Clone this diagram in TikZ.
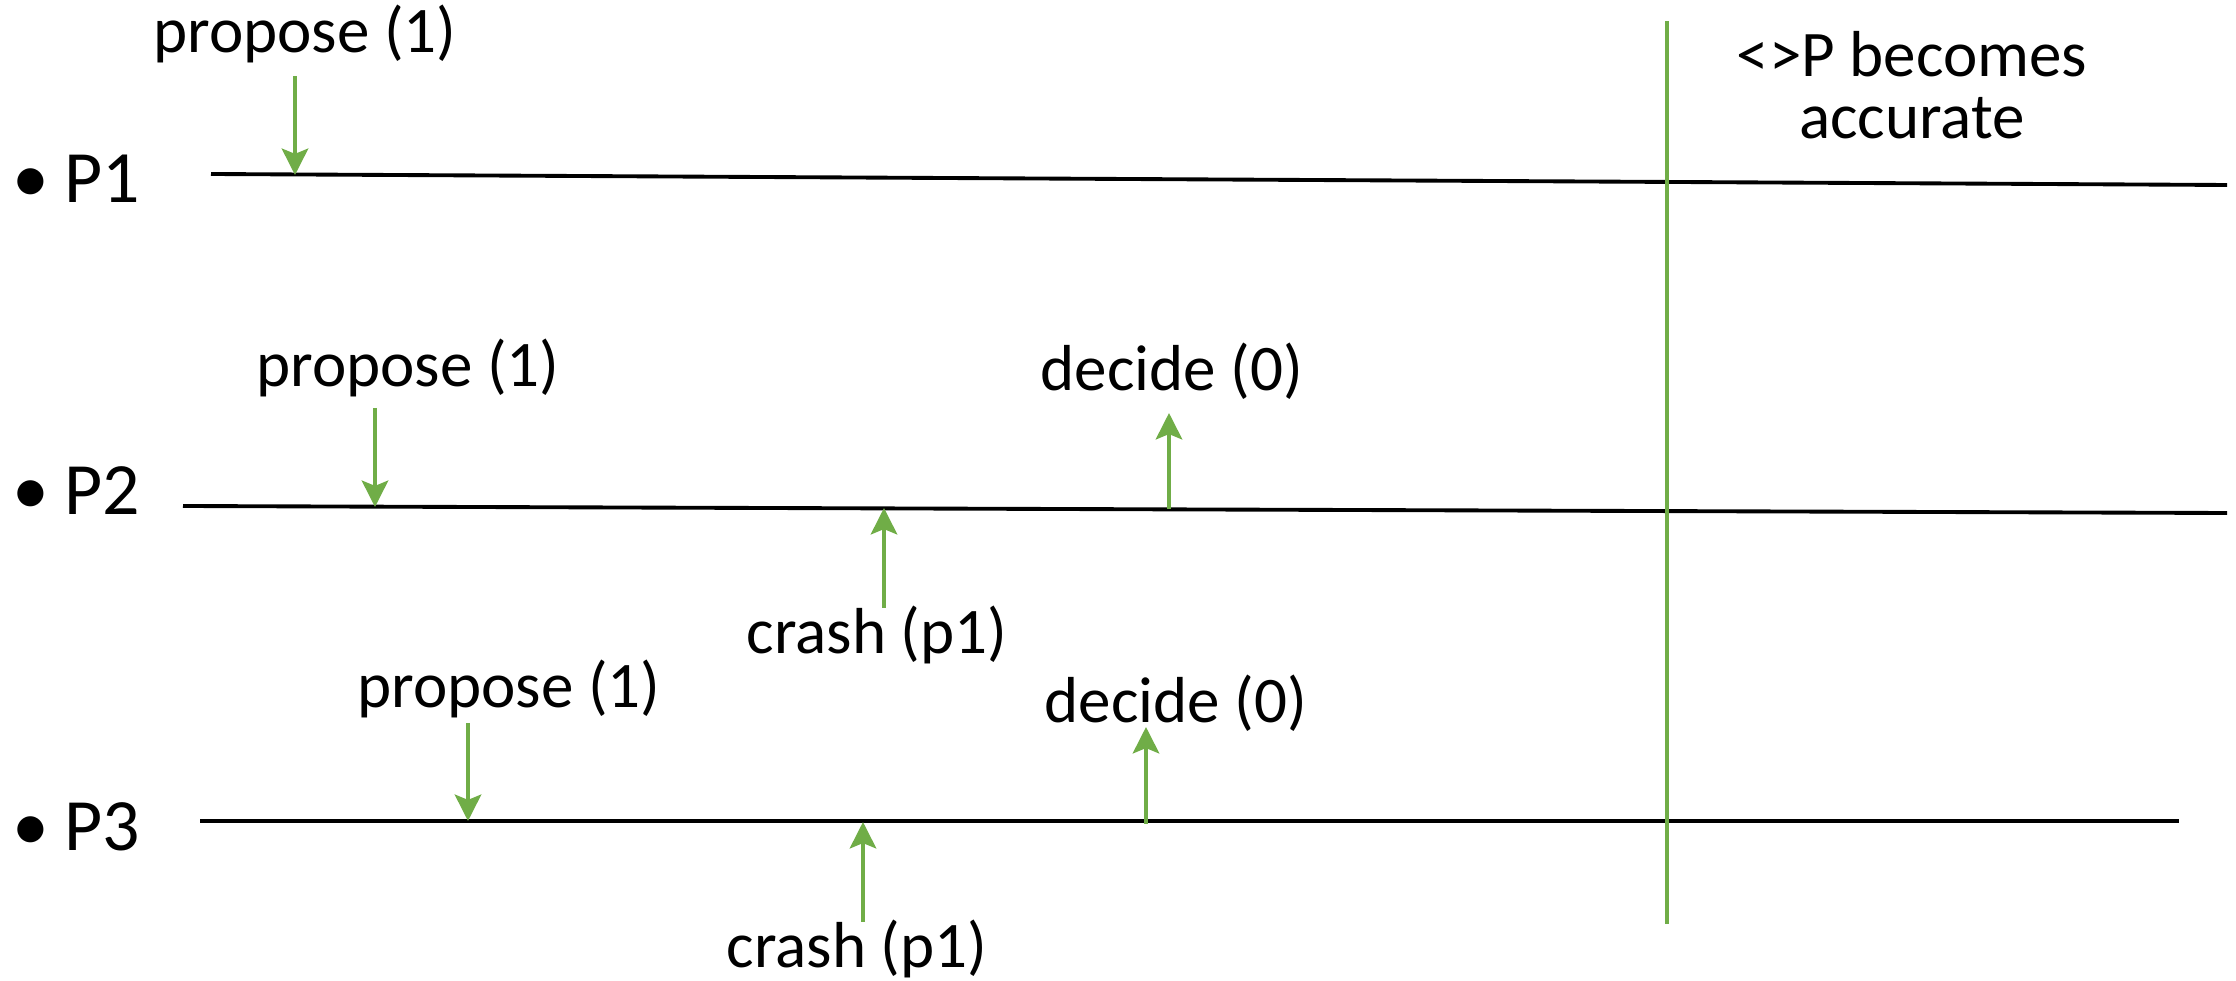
\documentclass[tikz,border=0pt]{standalone}
\usepackage{fontspec}
\setmainfont{Carlito}
\usepackage{tikz}
\usetikzlibrary{arrows.meta}
\definecolor{evgreen}{RGB}{112,173,71}
\tikzset{
    proc/.style={
    draw=black,line width=1.1pt
    },
    evt/.style={
    color=evgreen,line width=1.2pt,-{Stealth[length=7.5pt,width=7.5pt,inset=1.5pt]}
    },
    gst/.style={
    draw=evgreen,line width=1.1pt
    },
    txt/.style={
    inner sep=0pt,anchor=base,font=\fontsize{18.5}{17.5}\selectfont
    },
    pname/.style={
    inner sep=0pt,anchor=base west,font=\fontsize{21}{24}\selectfont
    },
}

\begin{document}
\begin{tikzpicture}
  \useasboundingbox (0,0) rectangle (22.36,9.81);
  % processes
  \node[pname] (n1) at (0.12,7.78) {\textbullet\hspace{0.2em}P1};
  \node[pname] (n2) at (0.12,4.66) {\textbullet\hspace{0.2em}P2};
  \node[pname] (n3) at (0.12,1.30) {\textbullet\hspace{0.2em}P3};
  \coordinate (p1s) at (2.11,8.07);
  \coordinate (p1e) at (22.27,7.96);
  \coordinate (p2s) at (1.83,4.75);
  \coordinate (p2e) at (22.27,4.68);
  \coordinate (p3s) at (2.00,1.60);
  \coordinate (p3e) at (21.79,1.60);
  \draw[proc] (p1s) -- (p1e);
  \draw[proc] (p2s) -- (p2e);
  \draw[proc] (p3s) -- (p3e);

  % <>P accurate from here on
  \coordinate (gt) at (16.67,9.60);
  \coordinate (gb) at (16.67,0.57);
  \draw[gst] (gt) -- (gb);
  \node[txt,anchor=center,align=center] (acc) at (19.12,8.96) {<>P becomes\\accurate};

  % events
  \node[txt] (prop1) at (3.05,9.28) {propose (1)};
  \node[txt] (prop2) at (4.08,5.94) {propose (1)};
  \node[txt] (dec2) at (11.72,5.90) {decide (0)};
  \node[txt] (crash2) at (8.77,3.27) {crash (p1)};
  \node[txt] (prop3) at (5.09,2.73) {propose (1)};
  \node[txt] (dec3) at (11.76,2.58) {decide (0)};
  \node[txt] (crash3) at (8.57,0.13) {crash (p1)};

  \coordinate (a1t) at (2.95,9.05);
  \coordinate (a1h) at (2.95,8.06);
  \coordinate (a2t) at (3.75,5.73);
  \coordinate (a2h) at (3.75,4.74);
  \coordinate (d2t) at (11.69,4.72);
  \coordinate (d2h) at (11.69,5.68);
  \coordinate (c2t) at (8.84,3.73);
  \coordinate (c2h) at (8.84,4.73);
  \coordinate (a3t) at (4.68,2.58);
  \coordinate (a3h) at (4.68,1.60);
  \coordinate (d3t) at (11.46,1.57);
  \coordinate (d3h) at (11.46,2.54);
  \coordinate (c3t) at (8.63,0.59);
  \coordinate (c3h) at (8.63,1.59);

  \path[evt]
    (a1t) edge (a1h)
    (a2t) edge (a2h)
    (d2t) edge (d2h)
    (c2t) edge (c2h)
    (a3t) edge (a3h)
    (d3t) edge (d3h)
    (c3t) edge (c3h);
\end{tikzpicture}
\end{document}
